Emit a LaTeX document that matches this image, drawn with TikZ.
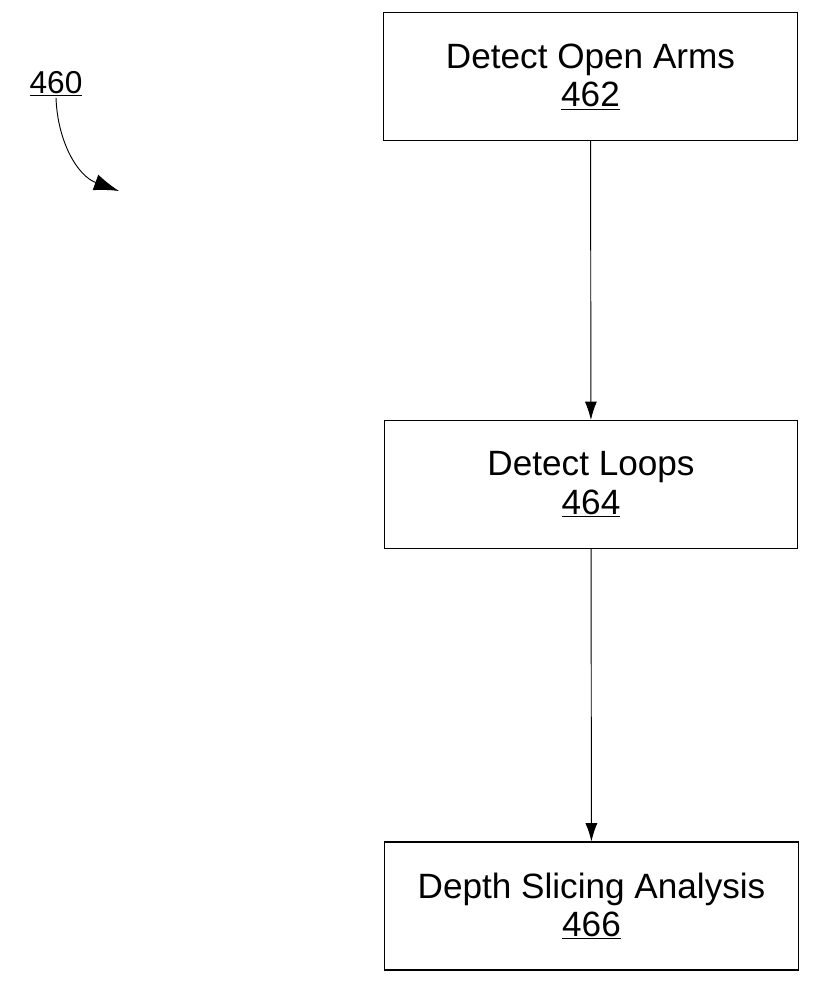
\documentclass[tikz,border=0pt]{standalone}
\usepackage{fontspec}
\setmainfont{Liberation Sans}
\usetikzlibrary{positioning}
\usetikzlibrary{%
  calc,%
  arrows.meta%
}
\tikzset{
  stepbox/.style={draw, line width=0.9pt, minimum width=12.4cm, minimum height=3.84cm,
    align=center, font=\fontsize{30}{33}\selectfont},
  flow/.style={line width=0.8pt, -{Latex[length=0.55cm,width=0.36cm]}}
}

\begin{document}
\begin{tikzpicture}[x=0.03cm,y=-0.03cm]
\useasboundingbox (0,0) rectangle (824,999);

\node[stepbox] (462) at (590.5,76.5) {Detect Open Arms\\\underline{462}};
\node[stepbox] (464) at (591,484.5) {Detect Loops\\\underline{464}};
\node[stepbox] (466) at (591.5,906) {Depth Slicing Analysis\\\underline{466}};

\node[font=\fontsize{27}{30}\selectfont, inner sep=1pt] (460) at (56,84) {\underline{460}};
\coordinate (tip) at (119,191);

\path[flow] (462) edge (464)
            (464) edge (466);

\draw[line width=0.8pt, -{Latex[length=0.75cm,width=0.5cm]}] (460.south) to[out=-88,in=160] (tip);
\end{tikzpicture}
\end{document}
